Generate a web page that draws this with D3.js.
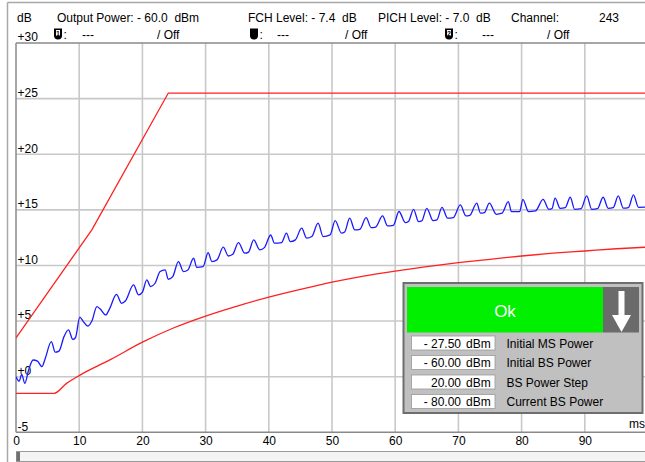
<!DOCTYPE html>
<html><head><meta charset="utf-8">
<script src="https://cdn.jsdelivr.net/npm/d3@7"></script>
<style>
html,body{margin:0;padding:0;background:#fff;}
svg{display:block;font-family:Arial,"Liberation Sans",sans-serif;}
</style></head>
<body>
<svg id="chart" width="645" height="462"></svg>
<script>
// ---------- data ----------
const xTicks = [0, 10, 20, 30, 40, 50, 60, 70, 80, 90];
const yTicks = [-5, 0, 5, 10, 15, 20, 25, 30];
const yTickLabels = ["-5", "+0", "+5", "+10", "+15", "+20", "+25", "+30"];

const upperLimitTime  = [0, 12, 24.1, 100];
const upperLimitLevel = [3.5, 13.2, 25.5, 25.5];

const lowerLimitTime  = [0, 6, 8, 10, 15, 20, 25, 30, 35, 40, 45, 50, 55, 60, 65, 70, 75, 80, 85, 90, 95, 100];
const lowerLimitLevel = [-1.5, -1.5, -0.6, 0.1, 1.55, 3.1, 4.4, 5.45, 6.35, 7.15, 7.85, 8.5, 9.05, 9.5, 9.9, 10.25, 10.55, 10.85, 11.1, 11.3, 11.5, 11.65];

const measTime = [0.0,0.5,0.9,1.4,2.0,2.7,3.4,4.1,4.6,5.6,6.2,6.8,7.6,8.3,9.0,9.4,10.1,10.6,11.4,12.0,12.8,13.3,14.2,14.8,15.9,16.7,17.3,18.6,19.4,20.0,20.7,21.3,22.0,22.8,23.6,24.1,24.8,25.7,26.5,27.2,28.1,28.6,29.6,30.4,31.0,31.8,32.8,33.6,34.3,35.2,36.2,36.8,37.6,38.6,39.3,40.3,40.9,42.0,42.8,43.4,44.2,45.2,46.0,46.8,47.8,48.6,49.7,50.5,51.5,52.0,52.8,53.6,54.4,55.4,56.2,56.9,58.0,58.8,59.7,60.6,61.6,62.1,62.9,63.7,64.2,65.0,66.0,66.6,67.4,68.3,69.2,70.3,71.2,71.8,72.9,73.5,74.1,74.9,76.0,76.9,77.9,78.4,79.7,80.2,81.1,82.2,83.4,84.3,84.8,85.3,86.1,86.9,87.7,88.4,89.4,90.3,91.1,92.0,92.9,93.7,94.5,95.3,96.1,96.9,97.7,98.5,100];
const measLevel = [0.0,-0.4,0.2,-0.6,0.6,1.5,1.4,0.9,1.6,3.15,2.2,2.3,3.6,4.2,3.35,3.5,5.35,5.0,4.55,5.0,6.3,6.1,5.55,6.1,7.4,6.6,6.8,8.25,7.35,7.6,8.7,8.1,8.4,9.45,9.6,8.76,9.0,10.35,9.45,9.6,10.65,9.83,9.9,11.15,10.35,10.5,11.64,10.85,11.0,12.05,11.1,11.2,12.3,11.4,11.6,12.74,12.0,12.05,12.9,12.14,12.3,13.35,12.45,12.6,13.8,12.6,12.75,14.03,12.9,13.0,14.25,13.2,13.25,14.3,13.4,13.45,14.45,13.55,13.6,14.85,13.85,13.95,15.05,13.94,14.0,15.14,14.03,14.1,15.23,14.25,14.3,15.44,14.45,14.5,15.6,14.7,14.75,15.6,14.6,14.7,15.74,14.84,14.84,15.95,14.84,14.9,15.95,15.05,15.1,16.05,15.14,15.2,16.13,15.05,15.1,16.25,15.05,15.1,16.13,15.14,15.2,16.25,15.15,15.2,16.34,15.23,15.25];

const headerRow1 = [
  {text: "dB", x: 17},
  {text: "Output Power: - 60.0  dBm", x: 57},
  {text: "FCH Level: - 7.4  dB", x: 248},
  {text: "PICH Level: - 7.0  dB", x: 378},
  {text: "Channel:", x: 511},
  {text: "243", x: 599}
];
const headerRow2 = [
  {icon: "1", x: 54, dash: 82, off: 157},
  {icon: "",  x: 250, dash: 277, off: 345},
  {icon: "2", x: 445, dash: 482, off: 547}
];

const panelValues = ["- 27.50", "- 60.00", "20.00", "- 80.00"];
const panelUnits  = ["dBm", "dBm", "dBm", "dBm"];
const panelLabels = ["Initial MS Power", "Initial BS Power", "BS Power Step", "Current BS Power"];
const panelStatus = "Ok";

// ---------- drawing ----------
const svg = d3.select("#chart");
const W = 645, H = 462;
svg.append("rect").attr("width", W).attr("height", H).attr("fill", "#ffffff");

const x = d3.scaleLinear().domain([0, 100]).range([16, 648]);
const y = d3.scaleLinear().domain([-5, 30]).range([432.3, 43]);

// window chrome
svg.append("line").attr("x1", 7.5).attr("x2", 645).attr("y1", 2.5).attr("y2", 2.5).attr("stroke", "#a8a8a8").attr("stroke-width", 1.5);
svg.append("line").attr("x1", 7.5).attr("x2", 7.5).attr("y1", 2.5).attr("y2", 462).attr("stroke", "#a8a8a8").attr("stroke-width", 1.5);

// header texts
const hdr = svg.append("g").attr("font-size", 12).attr("fill", "#000");
hdr.selectAll("text.r1").data(headerRow1).join("text")
  .attr("class", "r1").attr("x", d => d.x).attr("y", 21.5)
  .attr("xml:space", "preserve").style("white-space", "pre").text(d => d.text);

headerRow2.forEach(d => {
  const g = hdr.append("g").attr("transform", `translate(${d.x},28.5)`);
  g.append("path").attr("d", "M0,0 H8 V7 Q8,11 4,11 Q0,11 0,7 Z").attr("fill", "#000");
  if (d.icon) {
    g.append("rect").attr("x", 2).attr("y", 1.5).attr("width", 4).attr("height", 6).attr("fill", "#fff");
    g.append("text").attr("x", 4).attr("y", 7.2).attr("text-anchor", "middle").attr("font-size", 7).attr("font-weight", "bold").text(d.icon);
  }
  hdr.append("text").attr("x", d.x + 9.5).attr("y", 38.5).text(":");
  hdr.append("text").attr("x", d.dash).attr("y", 38.5).text("---");
  hdr.append("text").attr("x", d.off).attr("y", 38.5).text("/ Off");
});

// plot group with clip
svg.append("clipPath").attr("id", "plotClip").append("rect")
  .attr("x", 16).attr("y", 43).attr("width", W - 16).attr("height", 432.3 - 43);

const grid = svg.append("g");
grid.selectAll("line.v").data(xTicks.filter(t => t > 0)).join("line")
  .attr("class", "v").attr("x1", d => x(d)).attr("x2", d => x(d))
  .attr("y1", 43).attr("y2", 432.3).attr("stroke", "#c8c8c8").attr("stroke-width", 1.6);
grid.selectAll("line.h").data(yTicks.filter(t => t > -5 && t < 30)).join("line")
  .attr("class", "h").attr("x1", 16).attr("x2", W)
  .attr("y1", d => y(d)).attr("y2", d => y(d)).attr("stroke", "#c8c8c8").attr("stroke-width", 1.6);

// frame lines
svg.append("line").attr("x1", 16).attr("x2", W).attr("y1", 43).attr("y2", 43).attr("stroke", "#8a8a8a").attr("stroke-width", 1.5);
svg.append("line").attr("x1", 16).attr("x2", W).attr("y1", 432.3).attr("y2", 432.3).attr("stroke", "#8a8a8a").attr("stroke-width", 1.5);
svg.append("line").attr("x1", 16).attr("x2", 16).attr("y1", 43).attr("y2", 432.3).attr("stroke", "#8a8a8a").attr("stroke-width", 1.5);

// y axis labels
const yAxis = d3.axisRight(y).tickValues(yTicks).tickSize(0).tickPadding(1.5)
  .tickFormat((d, i) => yTickLabels[i]);
const ya = svg.append("g").attr("transform", "translate(16,0)").call(yAxis);
ya.select(".domain").remove();
ya.selectAll("text").attr("dy", "-0.18em").attr("font-size", 12).attr("fill", "#000")
  .attr("font-family", 'Arial,"Liberation Sans",sans-serif');

// x axis labels
const xAxis = d3.axisBottom(x).tickValues(xTicks).tickSize(0).tickPadding(4);
const xa = svg.append("g").attr("transform", "translate(0,432.3)").call(xAxis);
xa.select(".domain").remove();
xa.selectAll("text").attr("font-size", 12).attr("fill", "#000")
  .attr("font-family", 'Arial,"Liberation Sans",sans-serif');

svg.append("text").attr("x", 629).attr("y", 428).attr("font-size", 12).text("ms");

// curves
const plot = svg.append("g").attr("clip-path", "url(#plotClip)");
const line = d3.line().x(d => x(d[0])).y(d => y(d[1]));
const smooth = d3.line().curve(d3.curveMonotoneX).x(d => x(d[0])).y(d => y(d[1]));
const upper = d3.zip(upperLimitTime, upperLimitLevel);
const lower = d3.zip(lowerLimitTime, lowerLimitLevel);
const meas  = d3.zip(measTime, measLevel);
plot.append("path").datum(upper).attr("d", line).attr("fill", "none").attr("stroke", "#ff2020").attr("stroke-width", 1.3);
plot.append("path").datum(lower).attr("d", smooth).attr("fill", "none").attr("stroke", "#ff2020").attr("stroke-width", 1.3);
plot.append("path").datum(meas).attr("d", smooth).attr("fill", "none").attr("stroke", "#1a1aff").attr("stroke-width", 1.3);

// result panel
const p = svg.append("g");
p.append("rect").attr("x", 403.5).attr("y", 283).attr("width", 239).attr("height", 130)
  .attr("fill", "#c0c0c0").attr("stroke", "#6e6e6e").attr("stroke-width", 2);
p.append("rect").attr("x", 407).attr("y", 287).attr("width", 196).attr("height", 45.5).attr("fill", "#00f000");
p.append("rect").attr("x", 603).attr("y", 287).attr("width", 36).attr("height", 45.5).attr("fill", "#6b6b6b");
p.append("text").attr("x", 505).attr("y", 317).attr("text-anchor", "middle")
  .attr("font-size", 17).attr("fill", "#fff").text(panelStatus);
p.append("rect").attr("x", 618.5).attr("y", 291).attr("width", 6).attr("height", 25).attr("fill", "#fff");
p.append("path").attr("d", "M612,315 L631,315 L621.5,332 Z").attr("fill", "#fff");

const rows = p.selectAll("g.row").data(panelLabels).join("g").attr("class", "row")
  .attr("transform", (d, i) => `translate(0,${336 + i * 19.5})`);
rows.append("rect").attr("x", 411.5).attr("y", 0).attr("width", 83.5).attr("height", 14)
  .attr("fill", "#fff").attr("stroke", "#9a9a9a").attr("stroke-width", 0.8);
rows.append("text").attr("x", 461).attr("y", 11.5).attr("text-anchor", "end").attr("font-size", 12)
  .attr("xml:space", "preserve").text((d, i) => panelValues[i]);
rows.append("text").attr("x", 466).attr("y", 11.5).attr("font-size", 12).text((d, i) => panelUnits[i]);
rows.append("text").attr("x", 506.5).attr("y", 11.5).attr("font-size", 12).text(d => d);

// scrollbar
svg.append("rect").attr("x", 16.5).attr("y", 451.5).attr("width", 640).attr("height", 10)
  .attr("fill", "#f4f4f4").attr("stroke", "#9a9a9a").attr("stroke-width", 1);
svg.append("rect").attr("x", 16.5).attr("y", 452).attr("width", 3.5).attr("height", 9).attr("fill", "#707070");
</script>
</body></html>
